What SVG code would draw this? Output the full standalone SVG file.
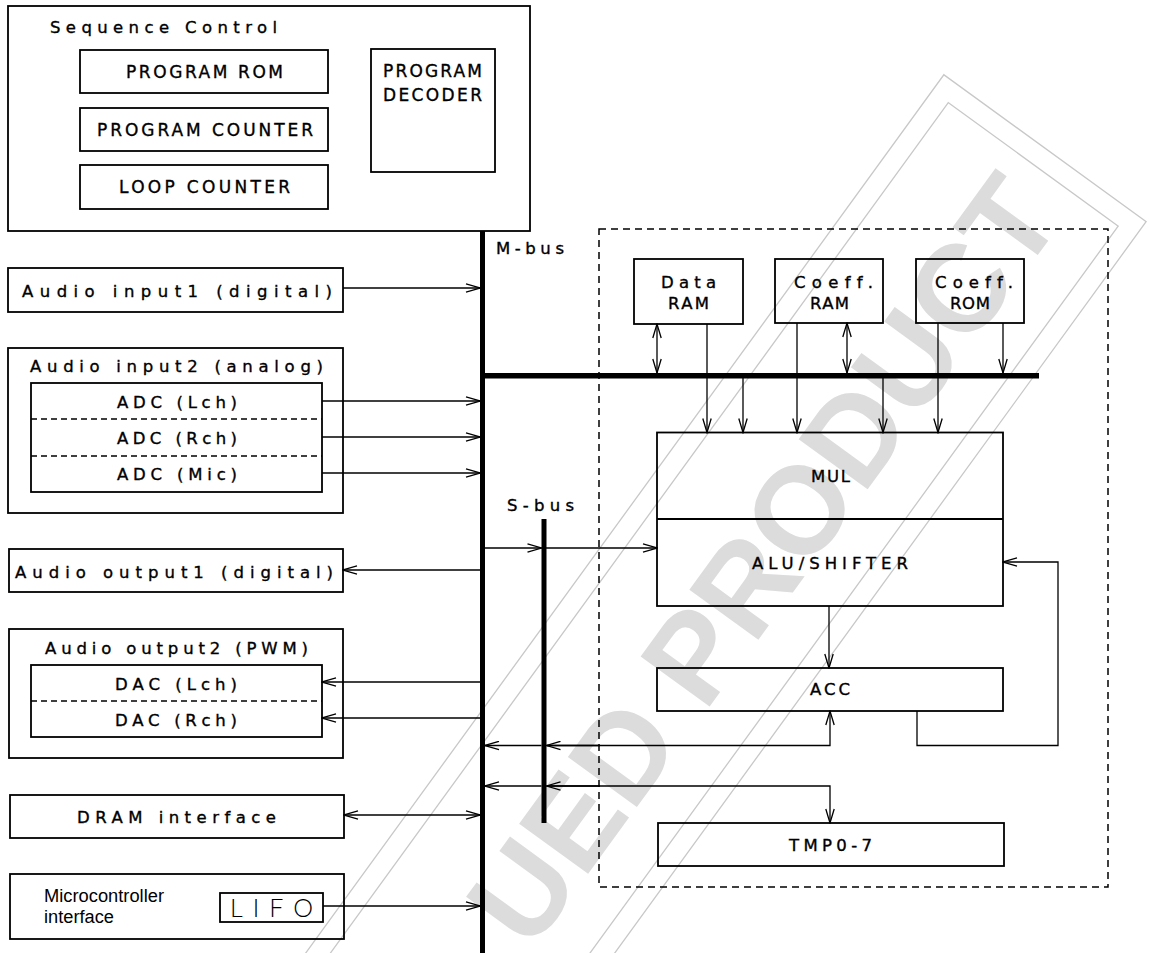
<svg xmlns="http://www.w3.org/2000/svg" width="1149" height="953" viewBox="0 0 1149 953">
<style>
text{font-variant-ligatures:none;font-feature-settings:"liga" 0}
.b{fill:none;stroke:#000;stroke-width:1.8}
.d{fill:none;stroke:#000;stroke-width:1.3;stroke-dasharray:6 4}
.dd{fill:none;stroke:#000;stroke-width:1.5;stroke-dasharray:7 5}
.c{fill:none;stroke:#000;stroke-width:1.3}
.a{marker-end:url(#ah)}
.s{marker-start:url(#ah)}
.bus{fill:none;stroke:#000;stroke-width:5}
.t{font-family:'DejaVu Sans','Liberation Sans',sans-serif;font-size:16.5px;fill:#000;stroke:#000;stroke-width:0.35}
.tc{font-family:'DejaVu Sans','Liberation Sans',sans-serif;font-size:17px;fill:#000;stroke:#000;stroke-width:0.35}
.h{font-family:'Liberation Sans',Arial,sans-serif;font-size:18px;fill:#000}
.lf{font-family:'Lato','Liberation Sans',sans-serif;font-weight:300;font-size:25px;fill:#000}
.wm{font-family:'Liberation Sans',Arial,sans-serif;font-weight:bold;font-size:124px;fill:#dcdcdc}
.wl{fill:none;stroke:#c8c8c8;stroke-width:1.3}
</style>
<defs>
<marker id="ah" viewBox="0 0 16 10" refX="15" refY="5" markerWidth="16" markerHeight="10" markerUnits="userSpaceOnUse" orient="auto-start-reverse">
<path d="M1,0.8 L15,5 L1,9.2" fill="none" stroke="#000" stroke-width="1.3"/>
</marker>
</defs>
<rect width="1149" height="953" fill="#fff"/>

<g id="watermark" transform="translate(600,548) rotate(-54)">
<rect class="wl" x="-1300" y="0" width="1885" height="250"/>
<rect class="wl" x="-1300" y="20" width="1865" height="210"/>
<text class="wm" x="541" y="182" text-anchor="end">UED PRODUCT</text>
</g>

<g id="sequence-control">
<rect class="b" x="8" y="6" width="522" height="225"/>
<text class="t" x="50" y="33" textLength="227" lengthAdjust="spacing">Sequence Control</text>
</g>
<g id="program-rom">
<rect class="b" x="80" y="50" width="248" height="43"/>
<text class="tc" x="126" y="78" textLength="157" lengthAdjust="spacing">PROGRAM ROM</text>
</g>
<g id="program-counter">
<rect class="b" x="80" y="108" width="248" height="43"/>
<text class="tc" x="97" y="136" textLength="216" lengthAdjust="spacing">PROGRAM COUNTER</text>
</g>
<g id="loop-counter">
<rect class="b" x="80" y="165" width="248" height="44"/>
<text class="tc" x="119" y="193" textLength="171" lengthAdjust="spacing">LOOP COUNTER</text>
</g>
<g id="program-decoder">
<rect class="b" x="371" y="49" width="124" height="123"/>
<text class="tc" x="383" y="77" textLength="99" lengthAdjust="spacing">PROGRAM</text>
<text class="tc" x="383" y="101" textLength="99" lengthAdjust="spacing">DECODER</text>
</g>

<g id="audio-input1">
<rect class="b" x="8" y="268" width="335" height="44"/>
<text class="t" x="22" y="297" textLength="310" lengthAdjust="spacing">Audio input1 (digital)</text>
</g>
<g id="audio-input2">
<rect class="b" x="8" y="348" width="335" height="165"/>
<text class="t" x="30" y="372" textLength="293" lengthAdjust="spacing">Audio input2 (analog)</text>
<rect class="b" x="31" y="383" width="291" height="109"/>
<line class="d" x1="31" y1="419" x2="322" y2="419"/>
<line class="d" x1="31" y1="456" x2="322" y2="456"/>
<text class="t" x="117" y="408" textLength="120" lengthAdjust="spacing">ADC (Lch)</text>
<text class="t" x="117" y="444" textLength="120" lengthAdjust="spacing">ADC (Rch)</text>
<text class="t" x="117" y="480" textLength="120" lengthAdjust="spacing">ADC (Mic)</text>
</g>
<g id="audio-output1">
<rect class="b" x="9" y="549" width="334" height="43"/>
<text class="t" x="15" y="578" textLength="318" lengthAdjust="spacing">Audio output1 (digital)</text>
</g>
<g id="audio-output2">
<rect class="b" x="9" y="629" width="334" height="129"/>
<text class="t" x="45" y="654" textLength="263" lengthAdjust="spacing">Audio output2 (PWM)</text>
<rect class="b" x="31" y="665" width="291" height="72"/>
<line class="d" x1="31" y1="701" x2="322" y2="701"/>
<text class="t" x="115" y="690" textLength="122" lengthAdjust="spacing">DAC (Lch)</text>
<text class="t" x="115" y="726" textLength="122" lengthAdjust="spacing">DAC (Rch)</text>
</g>
<g id="dram-interface">
<rect class="b" x="10" y="795" width="334" height="43"/>
<text class="t" x="77" y="823" textLength="199" lengthAdjust="spacing">DRAM interface</text>
</g>
<g id="microcontroller-interface">
<rect class="b" x="10" y="874" width="334" height="65"/>
<text class="h" x="44" y="902" textLength="120" lengthAdjust="spacingAndGlyphs">Microcontroller</text>
<text class="h" x="44" y="923" textLength="70" lengthAdjust="spacingAndGlyphs">interface</text>
<rect class="b" x="220" y="893" width="103" height="29"/>
<text class="lf" x="230" y="917" textLength="83" lengthAdjust="spacing">LIFO</text>
</g>

<g id="dsp-core">
<rect class="dd" x="599" y="229" width="509" height="658"/>
</g>
<g id="data-ram">
<rect class="b" x="634" y="259" width="109" height="65"/>
<text class="t" x="661" y="288" textLength="55" lengthAdjust="spacing">Data</text>
<text class="t" x="668" y="309" textLength="41" lengthAdjust="spacing">RAM</text>
</g>
<g id="coeff-ram">
<rect class="b" x="775" y="259" width="108" height="64"/>
<text class="t" x="794" y="288" textLength="79" lengthAdjust="spacing">Coeff.</text>
<text class="t" x="810" y="309" textLength="39" lengthAdjust="spacing">RAM</text>
</g>
<g id="coeff-rom">
<rect class="b" x="916" y="259" width="108" height="64"/>
<text class="t" x="935" y="288" textLength="78" lengthAdjust="spacing">Coeff.</text>
<text class="t" x="950" y="309" textLength="40" lengthAdjust="spacing">ROM</text>
</g>
<g id="mul-alu">
<rect class="b" x="657" y="432.5" width="346" height="173.5"/>
<line class="b" x1="657" y1="519" x2="1003" y2="519"/>
<text class="t" x="811" y="482" textLength="39" lengthAdjust="spacing">MUL</text>
<text class="t" x="752" y="569" textLength="156" lengthAdjust="spacing">ALU/SHIFTER</text>
</g>
<g id="acc">
<rect class="b" x="657" y="668" width="346" height="43"/>
<text class="t" x="810" y="695" textLength="40" lengthAdjust="spacing">ACC</text>
</g>
<g id="tmp">
<rect class="b" x="658" y="823" width="346" height="43"/>
<text class="t" x="789" y="851" textLength="83" lengthAdjust="spacing">TMP0-7</text>
</g>

<g id="buses">
<line class="bus" x1="482.5" y1="231" x2="482.5" y2="953"/>
<line class="bus" x1="482" y1="375.7" x2="1039" y2="375.7" style="stroke-width:5.5"/>
<line class="bus" x1="544" y1="519" x2="544" y2="823"/>
<text class="t" x="496" y="254" textLength="68" lengthAdjust="spacing">M-bus</text>
<text class="t" x="507" y="511" textLength="67" lengthAdjust="spacing">S-bus</text>
</g>

<g id="connectors">
<line class="c a" x1="343" y1="288" x2="480" y2="288"/>
<line class="c a" x1="322" y1="401" x2="480" y2="401"/>
<line class="c a" x1="322" y1="437" x2="480" y2="437"/>
<line class="c a" x1="322" y1="473" x2="480" y2="473"/>
<line class="c a" x1="485" y1="570" x2="343" y2="570"/>
<line class="c a" x1="485" y1="682" x2="322" y2="682"/>
<line class="c a" x1="485" y1="718" x2="322" y2="718"/>
<line class="c a s" x1="344" y1="815" x2="480" y2="815"/>
<line class="c a" x1="323" y1="906" x2="480" y2="906"/>

<line class="c a" x1="485" y1="548" x2="541.5" y2="548"/>
<line class="c a" x1="541.5" y1="548" x2="657" y2="548"/>

<line class="c a s" x1="657" y1="324" x2="657" y2="373"/>
<line class="c a" x1="707" y1="324" x2="707" y2="432.5"/>
<line class="c a" x1="743" y1="378" x2="743" y2="432.5"/>
<line class="c a" x1="797" y1="323" x2="797" y2="432.5"/>
<line class="c a s" x1="847" y1="323" x2="847" y2="373"/>
<line class="c a" x1="883" y1="378" x2="883" y2="432.5"/>
<line class="c a" x1="938" y1="323" x2="938" y2="432.5"/>
<line class="c a" x1="1003" y1="323" x2="1003" y2="373"/>

<line class="c a" x1="829" y1="606" x2="829" y2="668"/>
<polyline class="c a" points="917,711 917,745.5 1058,745.5 1058,562 1003,562"/>

<polyline class="c a" points="546.5,745.5 830,745.5 830,711"/>
<line class="c a" x1="600" y1="745.5" x2="546.5" y2="745.5"/>
<line class="c a" x1="541.5" y1="745.5" x2="485" y2="745.5"/>

<polyline class="c a" points="546.5,786 830,786 830,823"/>
<line class="c a" x1="600" y1="786" x2="546.5" y2="786"/>
<line class="c a" x1="541.5" y1="786" x2="485" y2="786"/>
</g>
</svg>
